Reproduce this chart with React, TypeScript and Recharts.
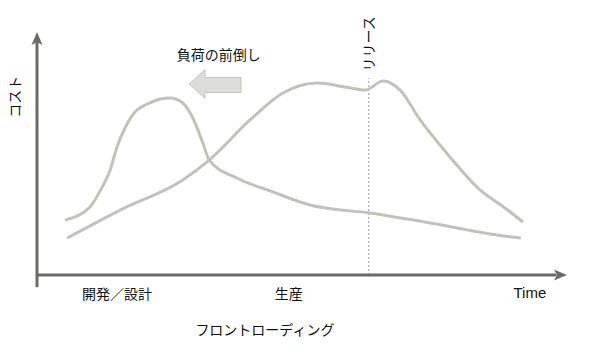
import { ComposedChart, Line, XAxis, YAxis, ReferenceLine, ReferenceDot } from "recharts";

// front-loaded effort (peaks early, in design)
const frontTime = [5.3, 10.0, 11.9, 13.8, 15.1, 16.6, 18.5, 20.0, 21.3, 23.2, 25.1, 27.5, 29.4, 31.3, 32.5, 37.7, 44.0, 51.5, 62.8, 74.2, 85.5, 91.3];
const frontCost = [22.6, 28.0, 34.6, 43.2, 52.7, 60.5, 67.1, 69.5, 70.8, 72.4, 72.8, 70.8, 64.6, 54.3, 47.3, 39.9, 34.6, 28.8, 25.5, 21.4, 16.9, 15.2];

// conventional effort (peaks around release)
const lateTime = [5.7, 15.7, 27.5, 32.5, 40.2, 46.4, 52.8, 58.1, 61.9, 65.3, 68.5, 72.3, 77.9, 83.6, 88.3, 91.7];
const lateCost = [15.2, 26.7, 39.1, 47.3, 63.8, 74.9, 79.0, 77.4, 76.1, 79.8, 76.1, 63.8, 48.6, 35.0, 27.6, 21.8];

const phaseTicks = [15.1, 47.5, 93];
const phaseLabels = ["開発／設計", "生産", "Time"];
const releaseTime = 62.6;

const frontData = frontTime.map((t, i) => ({ time: t, cost: frontCost[i] }));
const lateData = lateTime.map((t, i) => ({ time: t, cost: lateCost[i] }));

const JP = "'Noto Sans CJK JP', 'Noto Sans', sans-serif";
const curveColor = "#c2c2bc";
const axisColor = "#6a6a66";

const PhaseTick = (props: any) => {
  const { x, y, payload } = props;
  const i = phaseTicks.indexOf(payload.value);
  const label = phaseLabels[i];
  const latin = label === "Time";
  return (
    <text
      x={x}
      y={y + (latin ? 9 : 10)}
      textAnchor="middle"
      dominantBaseline="central"
      fontSize={latin ? 15 : 14}
      fontFamily={latin ? "'Liberation Sans', Arial, sans-serif" : JP}
      fill="#111"
    >
      {label}
    </text>
  );
};

const note = (value: string, angle = 0) => ({
  value,
  angle,
  position: "center" as const,
  fontSize: 14,
  fontFamily: JP,
  fill: "#111",
});

export default function App() {
  return (
    <div style={{ position: "absolute", left: 0, top: 0, background: "#fff" }}>
      <ComposedChart width={595} height={350} margin={{ top: 32, right: 28, left: 37, bottom: 55 }}>
        <XAxis
          dataKey="time"
          type="number"
          domain={[0, 100]}
          ticks={phaseTicks}
          tick={<PhaseTick />}
          tickLine={false}
          axisLine={false}
          height={20}
          allowDataOverflow
        />
        <YAxis type="number" domain={[0, 100]} hide allowDataOverflow />

        <ReferenceLine
          segment={[{ x: releaseTime, y: 0 }, { x: releaseTime, y: 81 }]}
          stroke="#9a9a9a"
          strokeDasharray="2 2"
          strokeWidth={1}
          ifOverflow="visible"
        />

        <Line data={lateData} dataKey="cost" type="monotone" stroke={curveColor} strokeWidth={3} dot={false} isAnimationActive={false} />
        <Line data={frontData} dataKey="cost" type="monotone" stroke={curveColor} strokeWidth={3} dot={false} isAnimationActive={false} />

        {/* axes with arrow heads */}
        <ReferenceLine segment={[{ x: 0, y: 0 }, { x: 98, y: 0 }]} stroke={axisColor} strokeWidth={3} ifOverflow="visible" />
        <ReferenceLine segment={[{ x: 0, y: -5 }, { x: 0, y: 97 }]} stroke={axisColor} strokeWidth={3} ifOverflow="visible" />
        <ReferenceDot
          x={100}
          y={0}
          r={0}
          ifOverflow="visible"
          shape={(p: any) => (
            <path d={`M${p.cx} ${p.cy} L${p.cx - 13} ${p.cy - 5.5} L${p.cx - 10} ${p.cy} L${p.cx - 13} ${p.cy + 5.5} Z`} fill={axisColor} />
          )}
        />
        <ReferenceDot
          x={0}
          y={100}
          r={0}
          ifOverflow="visible"
          shape={(p: any) => (
            <path d={`M${p.cx} ${p.cy} L${p.cx - 5.5} ${p.cy + 13} L${p.cx} ${p.cy + 10} L${p.cx + 5.5} ${p.cy + 13} Z`} fill={axisColor} />
          )}
        />

        {/* front-loading arrow */}
        <ReferenceDot
          x={33.6}
          y={78.6}
          r={0}
          ifOverflow="visible"
          shape={(p: any) => {
            const { cx, cy } = p;
            const d = `M${cx - 26} ${cy} L${cx - 10} ${cy - 14.5} L${cx - 10} ${cy - 6.5} L${cx + 26} ${cy - 6.5} L${cx + 26} ${cy + 8.5} L${cx - 10} ${cy + 8.5} L${cx - 10} ${cy + 14.5} Z`;
            return <path d={d} fill="#dcdcd8" stroke="#c6c6c2" strokeWidth={1} />;
          }}
        />

        <ReferenceDot x={-4.15} y={73.3} r={0} ifOverflow="visible" label={note("コスト", -90)} />
        <ReferenceDot x={34.3} y={90.5} r={0} ifOverflow="visible" label={note("負荷の前倒し")} />
        <ReferenceDot x={releaseTime} y={95.1} r={0} ifOverflow="visible" label={note("リリース", -90)} />
        <ReferenceDot x={43} y={-22.6} r={0} ifOverflow="visible" label={note("フロントローディング")} />
      </ComposedChart>
    </div>
  );
}
